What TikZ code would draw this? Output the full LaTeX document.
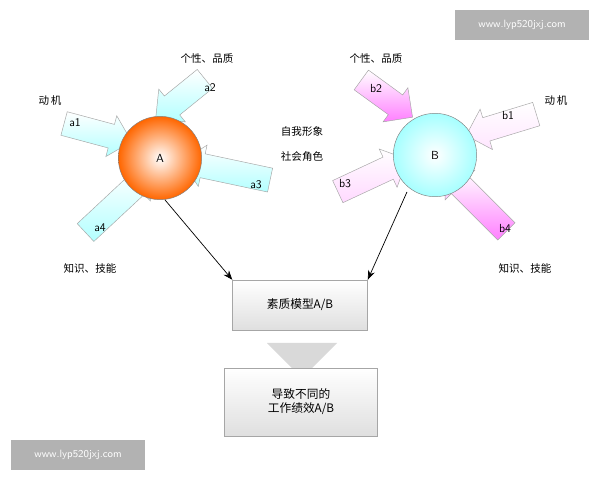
\documentclass[tikz,border=0pt]{standalone}
\usepackage{fontspec}
\newfontfamily\cjk{Noto Sans CJK SC}
\usetikzlibrary{shapes.arrows,arrows.meta}
\tikzstyle{fat}=[shape=single arrow,draw=gray!70,single arrow head extend=6pt,minimum width=36pt,inner sep=8pt]
\tikzstyle{bluearrow}=[fat,top color=white,bottom color=cyan!30]
\tikzstyle{pinkarrow}=[fat,top color=white,bottom color=magenta!50]
\tikzstyle{lbl}=[font=\sffamily]
\tikzstyle{cn}=[font=\cjk\small]
\tikzstyle{to}=[-{Stealth[length=8pt]},semithick]
\begin{document}
\begin{tikzpicture}[x=0.03cm,y=-0.03cm]
    \useasboundingbox[fill=white] (0,0) rectangle (600,480);
    % watermarks
    \node[fill=gray!60,text=white,font=\sffamily\small,minimum width=4cm,minimum height=0.9cm] (w1) at (522,25) {www.lyp520jxj.com};
    \node[fill=gray!60,text=white,font=\sffamily\small,minimum width=4cm,minimum height=0.9cm] (w2) at (78,455) {www.lyp520jxj.com};
    % A arrows
    \node[bluearrow,minimum height=2.1cm,rotate=-15] (a1) at (92,131) {};
    \node[bluearrow,minimum height=1.9cm,rotate=219] (a2) at (185,95) {};
    \node[bluearrow,minimum height=2.7cm,rotate=168] (a3) at (232,172) {};
    \node[bluearrow,minimum height=2.7cm,rotate=43] (a4) at (114,206) {};
    % B arrows
    \node[pinkarrow,minimum height=2.2cm,rotate=197,bottom color=magenta!10] (b1) at (507,123) {};
    \node[pinkarrow,minimum height=1.9cm,rotate=-36] (b2) at (382,95) {};
    \node[pinkarrow,minimum height=2.3cm,rotate=25,bottom color=magenta!15] (b3) at (367,178) {};
    \node[pinkarrow,minimum height=2.6cm,rotate=135] (b4) at (480,205) {};
    % circles
    \node[circle,draw=gray,inner color=white,outer color=orange!80!red,minimum size=2.5cm,font=\sffamily] (A) at (160,158) {A};
    \node[circle,draw=gray,inner color=white,outer color=cyan!35,minimum size=2.5cm,font=\sffamily] (B) at (435,155) {B};
    % arrow labels
    \node[lbl] (la1) at (75,123) {a1};
    \node[lbl] (la2) at (210,88) {a2};
    \node[lbl] (la3) at (256,185) {a3};
    \node[lbl] (la4) at (100,228) {a4};
    \node[lbl] (lb1) at (508,115) {b1};
    \node[lbl] (lb2) at (376,88) {b2};
    \node[lbl] (lb3) at (345,184) {b3};
    \node[lbl] (lb4) at (505,228) {b4};
    % texts
    \node[cn] (t1) at (50,100) {动\,机};
    \node[cn] (t2) at (207,58) {个性、品质};
    \node[cn] (t3) at (302,132) {自我形象};
    \node[cn] (t4) at (302,157) {社会角色};
    \node[cn] (t5) at (90,268) {知识、技能};
    \node[cn] (t6) at (376,58) {个性、品质};
    \node[cn] (t7) at (556,100) {动\,机};
    \node[cn] (t8) at (525,268) {知识、技能};
    % boxes
    \node[draw=gray!70,top color=white,bottom color=gray!25,minimum width=135*0.03cm,minimum height=50*0.03cm,font=\cjk] (M) at (300,305) {素质模型A/B};
    \node[single arrow,shape border rotate=270,fill=gray!30,minimum height=0.8cm,minimum width=2.1cm,single arrow head extend=0pt,inner sep=0pt] (D) at (302,343) {};
    \node[draw=gray!70,top color=white,bottom color=gray!25,minimum width=153*0.03cm,minimum height=68*0.03cm,font=\cjk,align=center] (R) at (301,402) {导致不同的\\工作绩效A/B};
    \draw[to] (A.south) ++(5,0) coordinate (pa) -- (M.north west);
    \draw[to] (B.south) ++(-28,-5) coordinate (pb) -- (M.north east);
\end{tikzpicture}
\end{document}
